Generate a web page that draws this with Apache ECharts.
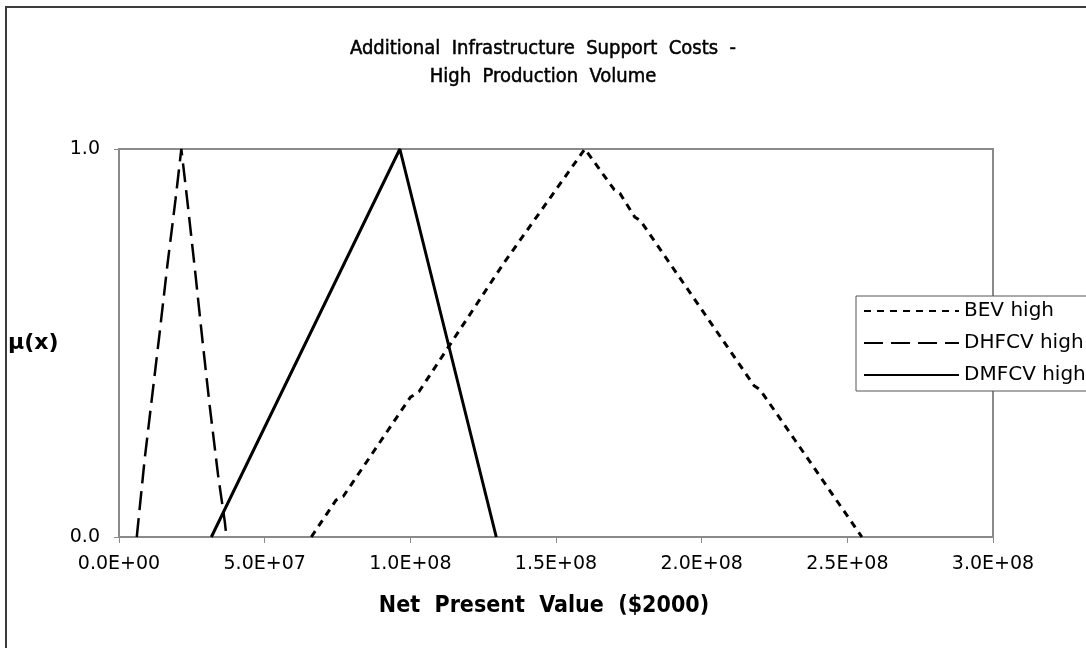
<!DOCTYPE html>
<html>
<head>
<meta charset="utf-8">
<script src="https://cdn.jsdelivr.net/npm/echarts@6/dist/echarts.min.js"></script>
<style>
html,body{margin:0;padding:0;background:#fff;}
#chart{width:1086px;height:648px;}
</style>
</head>
<body>
<div id="chart"></div>
<script>
// Data (x = Net Present Value, mu = membership)
const seriesNames = ['BEV high', 'DHFCV high', 'DMFCV high'];
const bevX   = [6.6e7, 7.45e7, 7.7e7, 10.0e7, 10.3e7, 13.2e7, 15.99e7, 17.0e7, 17.2e7, 17.7e7, 17.9e7, 21.8e7, 22.0e7, 23.2e7, 25.5e7];
const bevMu  = [0, 0.095, 0.105, 0.36, 0.375, 0.705, 1, 0.895, 0.885, 0.825, 0.815, 0.39, 0.38, 0.25, 0];
const dhfcvX  = [0.61e7, 0.88e7, 1.37e7, 1.66e7, 1.94e7, 2.14e7, 2.37e7, 2.62e7, 2.86e7, 3.11e7, 3.40e7, 3.63e7, 3.69e7];
const dhfcvMu = [0, 0.2, 0.51, 0.7, 0.87, 1, 0.85, 0.68, 0.51, 0.34, 0.16, 0.04, 0];
const dmfcvX  = [3.17e7, 9.64e7, 12.95e7];
const dmfcvMu = [0, 1, 0];
const xTicks = {min: 0, max: 3e8, interval: 5e7};
const yTicks = {min: 0, max: 1, interval: 1};

function pairs(xs, ys){ return xs.map((x,i)=>[x, ys[i]]); }
function sci(v){
  if (v === 0) return '0.0E+00';
  const e = Math.floor(Math.log10(v) + 1e-9);
  const m = v / Math.pow(10, e);
  return m.toFixed(1) + 'E+' + (e < 10 ? '0' : '') + e;
}

const chart = echarts.init(document.getElementById('chart'), null, {renderer: 'canvas'});
const axisGray = '#8a8a8a';
const tickFont = 'DejaVu Sans';
const narrow = "'Liberation Sans Narrow', 'DejaVu Sans Condensed', 'Liberation Sans', sans-serif";

chart.setOption({
  animation: false,
  backgroundColor: '#fff',
  title: {
    text: 'Additional  Infrastructure  Support  Costs  -\nHigh  Production  Volume',
    left: 'center',
    top: 30,
    textStyle: {fontFamily: narrow, fontSize: 20, fontWeight: 'normal', color: '#000', lineHeight: 28, textBorderColor: '#000', textBorderWidth: 0.5}
  },
  graphic: [{
    type: 'rect', silent: true, z: -1,
    shape: {x: 6, y: 7, width: 1200, height: 800},
    style: {fill: null, stroke: '#3c3c3c', lineWidth: 2}
  }],
  grid: {left: 119, right: 93, top: 149, bottom: 111, show: true, borderColor: axisGray, borderWidth: 2, backgroundColor: 'transparent'},
  legend: {
    orient: 'vertical', left: 856, top: 296,
    padding: [5, 30, 6, 7],
    itemWidth: 95, itemHeight: 14, itemGap: 12,
    backgroundColor: '#fff', borderColor: '#555', borderWidth: 1,
    itemStyle: {opacity: 0},
    textStyle: {fontFamily: tickFont, fontSize: 20, color: '#000'},
    data: seriesNames
  },
  xAxis: {
    type: 'value', min: xTicks.min, max: xTicks.max, interval: xTicks.interval,
    name: 'Net  Present  Value  ($2000)', nameLocation: 'middle', nameGap: 58,
    nameTextStyle: {fontFamily: narrow, fontSize: 23, fontWeight: 'bold', color: '#000', padding: [0, 24, 0, 0]},
    axisLine: {show: true, lineStyle: {color: axisGray, width: 2}},
    axisTick: {show: true, length: 6, lineStyle: {color: axisGray, width: 1}},
    axisLabel: {margin: 18, formatter: sci, fontFamily: tickFont, fontSize: 19, color: '#000'},
    splitLine: {show: false}
  },
  yAxis: {
    type: 'value', min: yTicks.min, max: yTicks.max, interval: yTicks.interval,
    name: 'μ(x)', nameLocation: 'middle', nameRotate: 0, nameGap: 111,
    nameTextStyle: {fontFamily: tickFont, fontSize: 22, fontWeight: 'bold', color: '#000', align: 'left', padding: [0, 0, 8, 0]},
    axisLine: {show: true, lineStyle: {color: axisGray, width: 2}},
    axisTick: {show: true, length: 5, lineStyle: {color: axisGray, width: 1}},
    axisLabel: {margin: 19, formatter: v => v.toFixed(1), fontFamily: tickFont, fontSize: 19, color: '#000'},
    splitLine: {show: false}
  },
  series: [
    {name: seriesNames[0], type: 'line', symbol: 'none', data: pairs(bevX, bevMu),
     lineStyle: {color: '#000', width: 3, type: [7, 6]}, itemStyle: {color: '#000'}},
    {name: seriesNames[1], type: 'line', symbol: 'none', data: pairs(dhfcvX, dhfcvMu),
     lineStyle: {color: '#000', width: 2.5, type: [19, 8]}, itemStyle: {color: '#000'}},
    {name: seriesNames[2], type: 'line', symbol: 'none', data: pairs(dmfcvX, dmfcvMu),
     lineStyle: {color: '#000', width: 3, type: 'solid'}, itemStyle: {color: '#000'}}
  ]
});
</script>
</body>
</html>
